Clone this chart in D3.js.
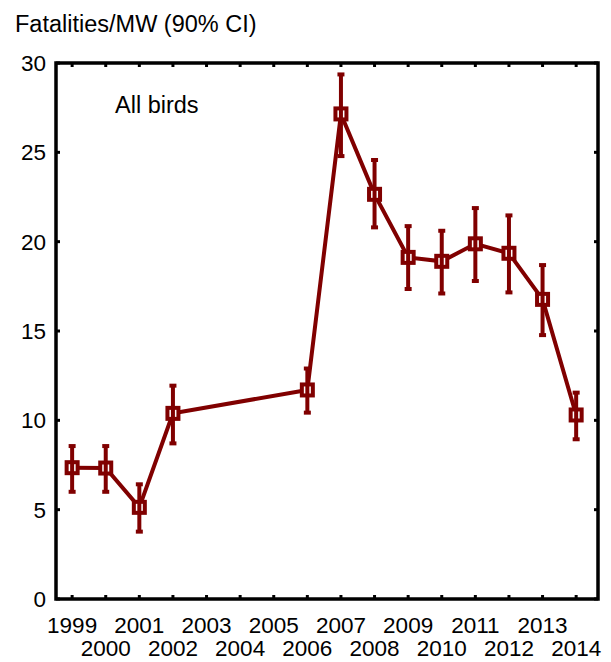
<!DOCTYPE html>
<html><head><meta charset="utf-8">
<script src="https://cdn.jsdelivr.net/npm/d3@7"></script>
<style>body{margin:0;background:#fff}svg{display:block}text{font-family:"Liberation Sans",Arial,sans-serif;fill:#000}</style>
</head><body><svg id="c" width="611" height="662"></svg>
<script>
const years = [1999,2000,2001,2002,2006,2007,2008,2009,2010,2011,2012,2013,2014];
const values = [7.35,7.33,5.13,10.39,11.7,27.15,22.65,19.12,18.9,19.88,19.35,16.77,10.3];
const lower = [6.0,6.0,3.77,8.71,10.43,24.79,20.8,17.35,17.1,17.8,17.16,14.77,8.94];
const upper = [8.56,8.56,6.42,11.94,12.9,29.36,24.57,20.87,20.61,21.88,21.47,18.69,11.55];
const xTickYears = d3.range(1999,2015);
const yTicks = [0,5,10,15,20,25,30];
const titleText = "Fatalities/MW (90% CI)";
const labelText = "All birds";
const color = "#800000";

const svg = d3.select("#c");
const L=56,R=598,T=63,B=599;
const x = d3.scaleLinear().domain([1998.52,2014.65]).range([L,R]);
const y = d3.scaleLinear().domain([0,30]).range([B,T]);

// ticks inside
const g = svg.append("g");
g.selectAll(".xt").data(xTickYears).join("line")
  .attr("x1",d=>x(d)).attr("x2",d=>x(d)).attr("y1",B).attr("y2",B-4)
  .attr("stroke","#000").attr("stroke-width",3);
g.selectAll(".xtt").data(xTickYears).join("line")
  .attr("x1",d=>x(d)).attr("x2",d=>x(d)).attr("y1",T).attr("y2",T+4)
  .attr("stroke","#000").attr("stroke-width",3);
g.selectAll(".yt").data(yTicks).join("line")
  .attr("x1",L).attr("x2",L+4).attr("y1",d=>y(d)).attr("y2",d=>y(d))
  .attr("stroke","#000").attr("stroke-width",3);
g.selectAll(".ytr").data(yTicks).join("line")
  .attr("x1",R).attr("x2",R-4).attr("y1",d=>y(d)).attr("y2",d=>y(d))
  .attr("stroke","#000").attr("stroke-width",3);
svg.append("rect").attr("x",L).attr("y",T).attr("width",R-L).attr("height",B-T)
  .attr("fill","none").attr("stroke","#000").attr("stroke-width",3.5);

// tick labels
svg.selectAll(".yl").data(yTicks).join("text")
  .attr("x",46).attr("y",d=>y(d)+8).attr("text-anchor","end")
  .attr("font-size",22.5).text(d=>d);
svg.selectAll(".xl").data(xTickYears).join("text")
  .attr("x",d=>x(d)).attr("y",(d,i)=>i%2===0?633:656).attr("text-anchor","middle")
  .attr("font-size",22.5).text(d=>d);

svg.append("text").attr("x",15).attr("y",32).attr("font-size",23.5).text(titleText);
svg.append("text").attr("x",115).attr("y",112.5).attr("font-size",23.5).text(labelText);

const data = years.map((yr,i)=>({yr,v:values[i],lo:lower[i],hi:upper[i]}));
svg.append("path").datum(data)
  .attr("d",d3.line().x(d=>x(d.yr)).y(d=>y(d.v)))
  .attr("fill","none").attr("stroke",color).attr("stroke-width",4);
svg.selectAll(".m").data(data).join("rect")
  .attr("x",d=>x(d.yr)-5.5).attr("y",d=>y(d.v)-5.5).attr("width",11).attr("height",11)
  .attr("fill","#fff").attr("stroke",color).attr("stroke-width",4);
const eb = svg.append("g").attr("stroke",color).attr("stroke-width",4);
eb.selectAll(".e").data(data).join("line")
  .attr("x1",d=>x(d.yr)).attr("x2",d=>x(d.yr)).attr("y1",d=>y(d.lo)).attr("y2",d=>y(d.hi));
eb.selectAll(".c1").data(data).join("line")
  .attr("x1",d=>x(d.yr)-3.5).attr("x2",d=>x(d.yr)+3.5).attr("y1",d=>y(d.lo)).attr("y2",d=>y(d.lo));
eb.selectAll(".c2").data(data).join("line")
  .attr("x1",d=>x(d.yr)-3.5).attr("x2",d=>x(d.yr)+3.5).attr("y1",d=>y(d.hi)).attr("y2",d=>y(d.hi));
</script></body></html>
